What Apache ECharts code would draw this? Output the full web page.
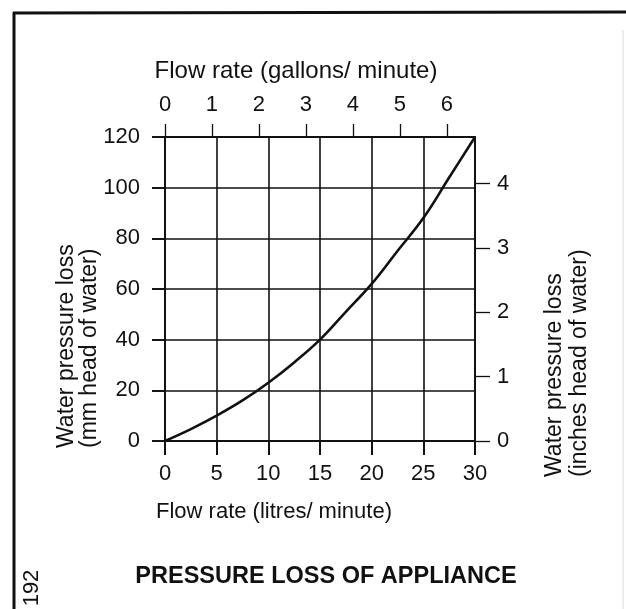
<!DOCTYPE html>
<html>
<head>
<meta charset="utf-8">
<script src="https://cdn.jsdelivr.net/npm/echarts@6/dist/echarts.min.js"></script>
<style>
html,body{margin:0;padding:0;background:#fff;}
#chart{width:626px;height:609px;}
</style>
</head>
<body>
<div id="chart"></div>
<script>
// Data
var flowLitres = [0, 2.5, 5, 7.5, 10, 12.5, 15, 17.5, 20, 22.5, 25, 27.5, 30];
var pressureMm = [0, 4.7, 10, 16, 23, 31, 40, 51, 62, 75, 88, 104, 120];
var litresTicks = [0, 5, 10, 15, 20, 25, 30];
var mmTicks = [0, 20, 40, 60, 80, 100, 120];
var gallonTicks = [0, 1, 2, 3, 4, 5, 6];
var inchTicks = [0, 1, 2, 3, 4];
var LITRES_PER_GALLON = 4.546;
var MM_PER_INCH = 25.4;

var titleText = 'PRESSURE LOSS OF APPLIANCE';
var topAxisName = 'Flow rate (gallons/ minute)';
var bottomAxisName = 'Flow rate (litres/ minute)';
var leftName1 = 'Water pressure loss';
var leftName2 = '(mm head of water)';
var rightName1 = 'Water pressure loss';
var rightName2 = '(inches head of water)';
var pageNumber = '192';

var FONT = '"Liberation Sans", Arial, Helvetica, sans-serif';
var INK = '#111';
var CLEAR = 'rgba(0,0,0,0)';

var chart = echarts.init(document.getElementById('chart'));
var points = flowLitres.map(function (x, i) { return [x, pressureMm[i]]; });
var xMax = litresTicks[litresTicks.length - 1];
var yMax = mmTicks[mmTicks.length - 1];

function rotText(x, y, text, size, align) {
  return {
    type: 'text', x: x, y: y, rotation: Math.PI / 2,
    style: {text: text, font: size + 'px ' + FONT, fill: INK, textAlign: align || 'left', textVerticalAlign: 'middle'}
  };
}

chart.setOption({
  animation: false,
  grid: [
    {left: 165, right: 151, top: 137, bottom: 168},   // main plot
    {left: 165, right: 151, top: 455, bottom: 140},   // strip under the plot: carries the litre ticks
    {left: 142, right: 474, top: 137, bottom: 168}    // strip left of the plot: carries the mm ticks
  ],
  xAxis: [
    {gridIndex: 0, type: 'value', position: 'bottom', min: 0, max: xMax, interval: 5,
     axisLine: {show: true, onZero: false, lineStyle: {color: INK, width: 2}},
     axisTick: {show: true, inside: false, length: 14, lineStyle: {color: INK, width: 2}},
     axisLabel: {margin: 22, fontSize: 22, color: INK},
     splitLine: {show: true, lineStyle: {color: INK, width: 1.6}}},
    {gridIndex: 0, type: 'value', position: 'top', min: 0, max: xMax / LITRES_PER_GALLON,
     axisLine: {show: true, onZero: false, lineStyle: {color: INK, width: 2}},
     axisTick: {show: true, inside: false, length: 13, customValues: gallonTicks, lineStyle: {color: INK, width: 1.3}},
     axisLabel: {margin: 21, fontSize: 22, color: INK, customValues: gallonTicks},
     splitLine: {show: false}},
    {gridIndex: 1, type: 'value', position: 'top', min: 0, max: xMax,
     axisLine: {show: true, onZero: false, lineStyle: {color: CLEAR, width: 1}},
     axisTick: {show: true, inside: false, length: 14, customValues: litresTicks, lineStyle: {color: INK, width: 2}},
     axisLabel: {show: false},
     splitLine: {show: false}},
    {gridIndex: 2, type: 'value', show: false, min: 0, max: 1}
  ],
  yAxis: [
    {gridIndex: 0, type: 'value', position: 'left', min: 0, max: yMax, interval: 20,
     axisLine: {show: true, onZero: false, lineStyle: {color: INK, width: 2}},
     axisTick: {show: true, inside: false, length: 13, lineStyle: {color: INK, width: 1.6}},
     axisLabel: {margin: 25, fontSize: 22, color: INK},
     splitLine: {show: true, lineStyle: {color: INK, width: 1.6}}},
    {gridIndex: 0, type: 'value', position: 'right', min: 0, max: yMax / MM_PER_INCH,
     axisLine: {show: true, onZero: false, lineStyle: {color: INK, width: 2}},
     axisTick: {show: true, inside: false, length: 15, customValues: inchTicks, lineStyle: {color: INK, width: 1.3}},
     axisLabel: {margin: 22, fontSize: 22, color: INK, customValues: inchTicks},
     splitLine: {show: false}},
    {gridIndex: 1, type: 'value', show: false, min: 0, max: 1},
    {gridIndex: 2, type: 'value', position: 'right', min: 0, max: yMax,
     axisLine: {show: true, onZero: false, lineStyle: {color: CLEAR, width: 1}},
     axisTick: {show: true, inside: false, length: 13, customValues: mmTicks, lineStyle: {color: INK, width: 1.8}},
     axisLabel: {show: false},
     splitLine: {show: false}}
  ],
  series: [
    {type: 'line', xAxisIndex: 0, yAxisIndex: 0, data: points, smooth: 0.4,
     showSymbol: false, symbol: 'none', lineStyle: {color: INK, width: 2.6}}
  ],
  graphic: [
    {type: 'line', shape: {x1: 13, y1: 13, x2: 626, y2: 12}, style: {stroke: INK, lineWidth: 3}},
    {type: 'line', shape: {x1: 14, y1: 12, x2: 14, y2: 609}, style: {stroke: INK, lineWidth: 3}},
    {type: 'line', shape: {x1: 623, y1: 30, x2: 623, y2: 609}, style: {stroke: '#d8d8d8', lineWidth: 1}},
    {type: 'text', x: 296, y: 71, style: {text: topAxisName, font: '24px ' + FONT, fill: INK, textAlign: 'center', textVerticalAlign: 'middle'}},
    {type: 'text', x: 274, y: 512, style: {text: bottomAxisName, font: '22px ' + FONT, fill: INK, textAlign: 'center', textVerticalAlign: 'middle'}},
    rotText(67, 448, leftName1, 23),
    rotText(90, 448, leftName2, 23),
    rotText(555, 477, rightName1, 23),
    rotText(580, 477, rightName2, 23),
    {type: 'text', x: 326, y: 577, style: {text: titleText, font: 'bold 23.5px ' + FONT, fill: INK, textAlign: 'center', textVerticalAlign: 'middle'}},
    rotText(32, 588, pageNumber, 22, 'center')
  ]
});
</script>
</body>
</html>
